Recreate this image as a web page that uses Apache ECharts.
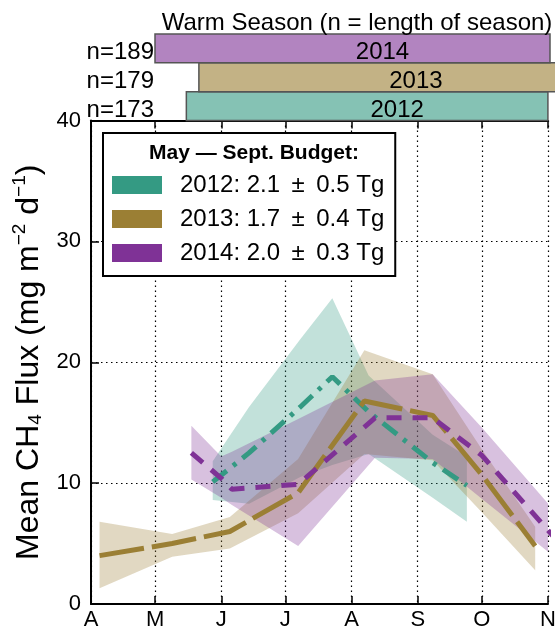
<!doctype html>
<html>
<head>
<meta charset="utf-8">
<title>Warm season CH4 flux</title>
<script src="https://cdn.jsdelivr.net/npm/echarts@6.0.0/dist/echarts.min.js"></script>
<style>
  html, body { margin: 0; padding: 0; background: #fff; }
  #chart { width: 555px; height: 632px; }
</style>
</head>
<body>
<div id="chart"></div>
<script type="text/javascript">
// x values are days after 1 April
var monthLetters = ['A', 'M', 'J', 'J', 'A', 'S', 'O', 'N'];
var monthStartDay = [0, 30, 61, 91, 122, 153, 183, 214];

// 2012
var day2012 = [57, 74, 98, 113, 130, 160, 176];
var mean2012 = [10.1, 12.5, 16.3, 18.8, 15.9, 11.7, 9.8];
var upper2012 = [11.8, 16.3, 21.9, 25.3, 18.9, 14.0, 12.2];
var lower2012 = [8.6, 8.3, 10.5, 11.5, 12.4, 8.8, 6.8];

// 2013
var day2013 = [4, 38, 65, 97, 128, 160, 183, 208];
var mean2013 = [4.0, 5.0, 6.0, 9.2, 16.8, 15.6, 10.7, 4.8];
var upper2013 = [6.8, 5.8, 7.2, 12.0, 21.0, 19.0, 12.8, 6.4];
var lower2013 = [1.3, 3.9, 4.6, 7.5, 12.4, 11.9, 7.6, 2.8];

// 2014
var day2014 = [47, 61, 66, 97, 133, 160, 183, 217];
var mean2014 = [12.5, 10.4, 9.5, 9.9, 15.4, 15.4, 12.3, 5.5];
var upper2014 = [14.75, 12.2, 12.6, 15.3, 18.5, 19.0, 14.6, 7.7];
var lower2014 = [10.3, 8.8, 8.2, 4.8, 12.1, 12.0, 8.7, 3.9];

var budgetNames = ['2012: 2.1 \u2009±\u2009 0.5 Tg', '2013: 1.7 \u2009±\u2009 0.4 Tg', '2014: 2.0 \u2009±\u2009 0.3 Tg'];

// warm season bars (top panel), days after start of the 2014 season
var seasonYears = ['2012', '2013', '2014'];
var seasonLength = [173, 179, 189];
var seasonStart = [15, 21, 0];

var FONT = 'Liberation Sans';
var lineColors = ['#349a83', '#9b7f34', '#7f3296'];
var bandColors = ['rgba(52,154,131,0.3)', 'rgba(155,127,52,0.3)', 'rgba(127,50,150,0.3)'];
var barColors = ['#85c2b4', '#c3b285', '#b284c0'];

function toPoints(days, vals) {
    return days.map(function (d, i) { return [d, vals[i]]; });
}

function bandSeries(days, lower, upper, color) {
    return {
        type: 'custom',
        xAxisIndex: 0, yAxisIndex: 0,
        clip: true,
        silent: true,
        data: toPoints(days, lower),
        renderItem: function (params, api) {
            if (params.dataIndex !== 0) return null;
            var pts = [];
            for (var i = 0; i < days.length; i++) pts.push(api.coord([days[i], upper[i]]));
            for (var j = days.length - 1; j >= 0; j--) pts.push(api.coord([days[j], lower[j]]));
            return { type: 'polygon', shape: { points: pts }, style: { fill: color, stroke: null } };
        }
    };
}

function meanSeries(name, days, mean, color, dash) {
    return {
        name: name,
        type: 'line',
        xAxisIndex: 0, yAxisIndex: 0,
        data: toPoints(days, mean),
        showSymbol: false,
        symbol: 'none',
        color: color,
        lineStyle: { color: color, width: 5, type: dash, cap: 'butt' },
        z: 3
    };
}

var chart = echarts.init(document.getElementById('chart'));

var option = {
    backgroundColor: '#fff',
    animation: false,
    textStyle: { fontFamily: FONT, color: '#000' },
    title: [
        {
            text: 'May — Sept. Budget:',
            left: 249, top: 138, textAlign: 'center',
            textStyle: { fontFamily: FONT, fontSize: 21, fontWeight: 'bold', color: '#000' }
        },
        {
            text: 'Warm Season (n = length of season)',
            left: 352, top: 6, textAlign: 'center',
            textStyle: { fontFamily: FONT, fontSize: 24, fontWeight: 'normal', color: '#000' }
        }
    ],
    legend: {
        orient: 'vertical',
        left: 103, top: 133,
        data: budgetNames,
        icon: 'rect',
        itemWidth: 50, itemHeight: 18,
        itemGap: 10,
        padding: [40, 11, 11, 9],
        backgroundColor: '#fff',
        borderColor: '#000', borderWidth: 2, borderRadius: 0,
        selectedMode: false,
        itemStyle: { borderWidth: 0 },
        textStyle: { fontFamily: FONT, fontSize: 24, color: '#000', padding: [0, 0, 0, 13] }
    },
    grid: [
        { left: 91, right: 7, top: 120.5, bottom: 28, outerBoundsMode: 'none' },
        { left: 155, right: 5, top: 34, height: 86.5, outerBoundsMode: 'none' }
    ],
    xAxis: [
        {
            type: 'value', gridIndex: 0, min: 0, max: 214,
            axisLine: { show: true, lineStyle: { color: '#000', width: 2 } },
            axisTick: { show: true, inside: true, length: 8, customValues: monthStartDay, lineStyle: { color: '#000', width: 1.5 } },
            axisLabel: {
                customValues: monthStartDay, margin: 5,
                fontFamily: FONT, fontSize: 22, color: '#000',
                formatter: function (v) { return monthLetters[monthStartDay.indexOf(v)]; }
            },
            splitLine: { show: true, lineStyle: { color: '#000', width: 1.2, type: [1.5, 3.5] } }
        },
        {
            type: 'value', gridIndex: 1, min: 0, max: 189, show: false
        },
        {
            type: 'value', gridIndex: 0, position: 'top', min: 0, max: 214,
            axisLine: { show: true, onZero: false, lineStyle: { color: '#000', width: 2 } },
            axisTick: { show: true, inside: true, length: 8, customValues: monthStartDay, lineStyle: { color: '#000', width: 1.5 } },
            axisLabel: { show: false },
            splitLine: { show: false }
        }
    ],
    yAxis: [
        {
            type: 'value', gridIndex: 0, min: 0, max: 40, interval: 10,
            name: 'Mean CH{sub|4} Flux (mg m{sup|−2} d{sup|−1})',
            nameLocation: 'middle', nameRotate: 90, nameGap: 40,
            nameTextStyle: {
                fontFamily: FONT, fontSize: 32, color: '#000',
                rich: {
                    sub: { fontFamily: FONT, fontSize: 19, color: '#000', padding: [12, 0, 0, 0] },
                    sup: { fontFamily: FONT, fontSize: 19, color: '#000', padding: [0, 0, 20, 0] }
                }
            },
            axisLine: { show: true, onZero: false, lineStyle: { color: '#000', width: 2 } },
            axisTick: { show: true, inside: true, length: 8, lineStyle: { color: '#000', width: 1.5 } },
            axisLabel: { margin: 10, fontFamily: FONT, fontSize: 22, color: '#000' },
            splitLine: { show: true, lineStyle: { color: '#000', width: 1.2, type: [1.5, 3.5] } }
        },
        {
            type: 'category', gridIndex: 1,
            data: seasonYears,
            show: false
        }
    ],
    series: [
        bandSeries(day2012, lower2012, upper2012, bandColors[0]),
        bandSeries(day2013, lower2013, upper2013, bandColors[1]),
        bandSeries(day2014, lower2014, upper2014, bandColors[2]),
        meanSeries(budgetNames[0], day2012, mean2012, lineColors[0], [18, 8, 4, 8]),
        meanSeries(budgetNames[1], day2013, mean2013, lineColors[1], [45, 8]),
        meanSeries(budgetNames[2], day2014, mean2014, lineColors[2], [15, 11]),
        {
            type: 'custom',
            xAxisIndex: 1, yAxisIndex: 1,
            clip: false,
            silent: true,
            encode: { x: [0, 1], y: 2 },
            data: seasonStart.map(function (s, i) { return [s, s + seasonLength[i], i]; }),
            renderItem: function (params, api) {
                var i = api.value(2);
                var p0 = api.coord([api.value(0), i]);
                var p1 = api.coord([api.value(1), i]);
                var h = api.size([0, 1])[1];
                var mid = api.coord([(api.value(0) + api.value(1)) / 2, i]);
                var axisStart = api.coord([0, i]);
                var font = '24px "' + FONT + '"';
                return {
                    type: 'group',
                    children: [
                        {
                            type: 'rect',
                            shape: { x: p0[0], y: p0[1] - h / 2, width: p1[0] - p0[0], height: h },
                            style: { fill: barColors[i], stroke: '#555', lineWidth: 1.5 }
                        },
                        {
                            type: 'text',
                            x: mid[0] + 30, y: mid[1] + 4,
                            style: { text: seasonYears[i], fill: '#000', font: font, align: 'center', verticalAlign: 'middle' }
                        },
                        {
                            type: 'text',
                            x: axisStart[0] - 1, y: axisStart[1] + 4,
                            style: { text: 'n=' + seasonLength[i], fill: '#000', font: font, align: 'right', verticalAlign: 'middle' }
                        }
                    ]
                };
            }
        }
    ]
};

chart.setOption(option);
</script>
</body>
</html>
